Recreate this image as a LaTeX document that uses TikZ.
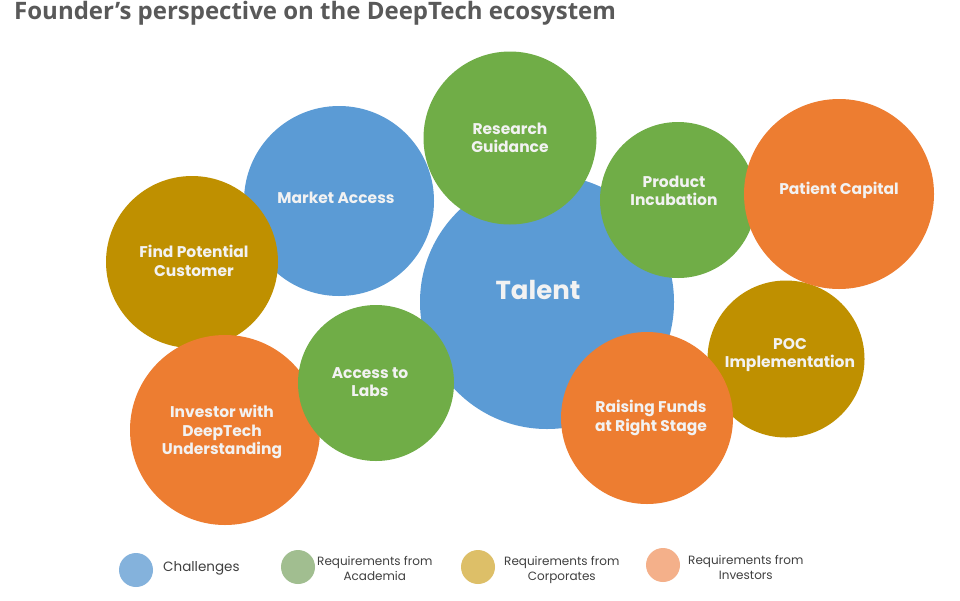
\documentclass[tikz,border=0pt]{standalone}
\usepackage{fontspec}
\setmainfont{Poppins}
\newfontfamily\titlefont{Open Sans}
\definecolor{cblue}{HTML}{5B9BD5}
\definecolor{cgreen}{HTML}{70AD47}
\definecolor{cgold}{HTML}{BF9000}
\definecolor{corange}{HTML}{ED7D31}
\definecolor{lblue}{HTML}{84B2DC}
\definecolor{lgreen}{HTML}{A1BE90}
\definecolor{lgold}{HTML}{DDBF68}
\definecolor{lorange}{HTML}{F4B08A}
\definecolor{titlegray}{HTML}{595959}
\definecolor{leggray}{HTML}{404040}
\tikzset{
  bub/.style={circle, inner sep=0pt, minimum size=#1},
  lbl/.style={text=white!95!black, font=\bfseries\fontsize{15.5}{18.5}\selectfont, align=center, inner sep=0pt},
  legdot/.style={circle, inner sep=0pt, minimum size=34pt},
  legtxt/.style={text=leggray, font=\fontsize{12}{15}\selectfont, align=center, inner sep=0pt}
}
\begin{document}
\begin{tikzpicture}[x=1pt,y=-1pt]
\useasboundingbox (0,0) rectangle (960,600);
\fill[white] (0,0) rectangle (960,600);
\node[anchor=base west, text=titlegray, font=\titlefont\bfseries\fontsize{24}{28}\selectfont, inner sep=0pt] (title) at (14,19) {Founder’s perspective on the DeepTech ecosystem};
% circles (back to front)
\node[bub=254pt, fill=cblue] (talent) at (547,302) {};
\node[bub=190pt, fill=cblue] (market) at (339,201) {};
\node[bub=172pt, fill=cgold] (find) at (192,262) {};
\node[bub=190pt, fill=corange] (investor) at (225,430) {};
\node[bub=156pt, fill=cgreen] (labs) at (376,383) {};
\node[bub=173pt, fill=cgreen] (research) at (510,138) {};
\node[bub=156pt, fill=cgreen] (incub) at (678,200) {};
\node[bub=157pt, fill=cgold] (poc) at (786,359) {};
\node[bub=190pt, fill=corange] (patient) at (839,194) {};
\node[bub=172pt, fill=corange] (raising) at (647,418) {};
% labels
\node[lbl, font=\bfseries\fontsize{26}{30}\selectfont] (talentT) at (538,290) {Talent};
\node[lbl] (marketT) at (336,198) {Market Access};
\node[lbl] (findT) at (194,261) {Find Potential\\Customer};
\node[lbl] (investorT) at (222,432) {Investor with\\DeepTech\\Understanding};
\node[lbl] (labsT) at (370,382) {Access to\\Labs};
\node[lbl] (researchT) at (510,138) {Research\\Guidance};
\node[lbl] (incubT) at (674,191) {Product\\Incubation};
\node[lbl] (pocT) at (790,355) {POC\\Implementation};
\node[lbl] (patientT) at (839,190) {Patient Capital};
\node[lbl] (raisingT) at (651,418) {Raising Funds\\at Right Stage};
% legend
\node[legdot, fill=lblue] (l1) at (136,570) {};
\node[legtxt, anchor=west, font=\fontsize{13.5}{15}\selectfont] (l1t) at (163,568) {Challenges};
\node[legdot, fill=lgreen] (l2) at (298,567) {};
\node[legtxt, anchor=west] (l2t) at (317,568) {Requirements from\\Academia};
\node[legdot, fill=lgold] (l3) at (478,567) {};
\node[legtxt, anchor=west] (l3t) at (504,570) {Requirements from\\Corporates};
\node[legdot, fill=lorange] (l4) at (663,565) {};
\node[legtxt, anchor=west] (l4t) at (688,567) {Requirements from\\Investors};
\end{tikzpicture}
\end{document}
